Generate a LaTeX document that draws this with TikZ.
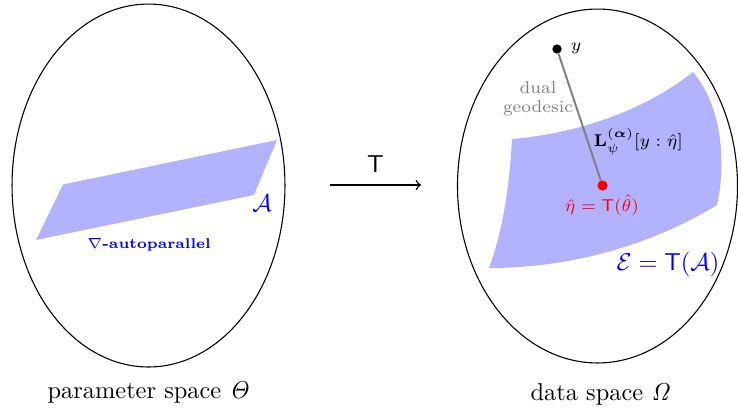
\documentclass[tikz,border=0pt]{standalone}
\usepackage{amsmath}
\usetikzlibrary{shapes.geometric}
\begin{document}
\begin{tikzpicture}[x=0.41pt,y=-0.41pt,
  space/.style={draw=black, ellipse, inner sep=0pt, line width=0.45pt},
  surf/.style={fill=blue!30, draw=none},
  dotnode/.style={circle, inner sep=0pt, minimum size=3.8pt},
  lbl/.style={inner sep=1pt}]
\useasboundingbox (0,0) rectangle (738,409);
% spaces
\node[space, minimum width=111.9pt, minimum height=148.8pt] (P) at (148.5,185.5) {};
\node[space, minimum width=114.8pt, minimum height=145.1pt] (D) at (597.5,186) {};
\node[lbl] (Pl) at (149,393) {parameter space $\mathit{\Theta}$};
\node[lbl] (Dl) at (601,394) {data space $\mathit{\Omega}$};
% left surface
\fill[surf] (36,240) -- (63,184.5) -- (277,140) -- (254,195) -- cycle;
\node[lbl, text=blue] (A) at (262,203) {$\mathcal{A}$};
\node[lbl, text=blue, font=\fontsize{5.8pt}{7pt}\selectfont\bfseries] (nab) at (149,245) {$\nabla$-autoparallel};
% map arrow
\coordinate (a0) at (330,185);
\coordinate (a1) at (421,185);
\draw[->, line width=0.6pt] (a0) -- node[above=1.5pt] {$\mathsf{T}$} (a1);
% right surface
\fill[surf] (512,139) .. controls (580,133) and (645,110) .. (693,72)
  .. controls (725,110) and (725,170) .. (717,205)
  .. controls (660,240) and (580,268) .. (489,268)
  .. controls (505,225) and (510,175) .. (512,139) -- cycle;
\node[lbl, text=blue] (E) at (668,264) {$\mathcal{E}=\mathsf{T}(\mathcal{A})$};
% points
\node[dotnode, fill=black] (y) at (557,49) {};
\node[dotnode, fill=red, minimum size=4.2pt] (eta) at (602.5,185.5) {};
\draw[gray, line width=0.8pt] (y) -- (eta);
\node[lbl, font=\scriptsize, anchor=west] (yl) at (568,48) {$y$};
\node[lbl, font=\scriptsize, text=red] (etal) at (602,205) {$\hat{\eta}=\mathsf{T}(\hat{\theta})$};
\node[lbl, font=\scriptsize, text=gray, align=center] (dg) at (538,99) {dual\\[0pt]geodesic};
\node[lbl, font=\scriptsize, anchor=west] (L) at (591,142) {$\mathbf{L}_{\psi}^{(\boldsymbol{\alpha})}[y:\hat{\eta}]$};
\end{tikzpicture}
\end{document}
